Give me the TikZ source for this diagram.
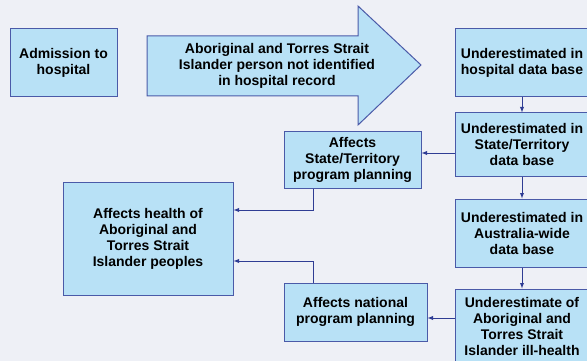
\documentclass[tikz,border=0pt]{standalone}
\usepackage{fontspec}
\setmainfont{Liberation Sans}
\usepackage{tikz}
\usetikzlibrary{positioning,calc,arrows}
\definecolor{pagebg}{HTML}{EEF0F6}
\definecolor{boxfill}{HTML}{B8E1F6}
\definecolor{boxline}{HTML}{4A5AA8}
\definecolor{darkblue}{HTML}{2F3D94}

\begin{document}
\begin{tikzpicture}[x=1pt, y=-1pt,
    box/.style={draw=boxline, fill=boxfill, line width=1pt, inner sep=0pt,
      align=center, font=\fontsize{14}{16}\selectfont\bfseries},
    conn/.style={darkblue, line width=0.9pt, -latex}]
  \fill[pagebg] (0,0) rectangle (587,361);
  \clip (0,0) rectangle (587,361);
  % left column
  \node[box, minimum width=107pt, minimum height=68pt] (admit) at (63.5,63) {Admission to\\hospital};
  \node[box, minimum width=170pt, minimum height=113pt] (health) at (148,238.5)
    {Affects health of\\Aboriginal and\\Torres Strait\\Islander peoples};
  % the big arrow
  \draw[boxline, fill=boxfill, line width=1pt]
    (147,36) -- (358,36) -- (358,6) -- (421,65) -- (358,125) -- (358,96) -- (147,96) -- cycle;
  \node[align=center, font=\fontsize{14}{16}\selectfont\bfseries] (notid) at (277,66)
    {Aboriginal and Torres Strait\\Islander person not identified\\in hospital record};
  % middle column
  \node[box, minimum width=137pt, minimum height=57pt] (stateplan) at (352.5,159.5)
    {Affects\\State/Territory\\program planning};
  \node[box, minimum width=143pt, minimum height=58pt] (natplan) at (355.5,312)
    {Affects national\\program planning};
  % right column
  \node[box, minimum width=134pt, minimum height=68pt] (hospdb) at (522,63)
    {Underestimated in\\hospital data base};
  \node[box, minimum width=134pt, minimum height=63pt] (statedb) at (522,144.5)
    {Underestimated in\\State/Territory\\data base};
  \node[box, minimum width=134pt, minimum height=68pt] (ausdb) at (522,233)
    {Underestimated in\\Australia-wide\\data base};
  \node[box, minimum width=134pt, minimum height=74pt] (illdb) at (522,326)
    {Underestimate of\\Aboriginal and\\Torres Strait\\Islander ill-health};
  % connectors
  \draw[conn] (hospdb.south) -- (statedb.north);
  \draw[conn] (statedb.south) -- (ausdb.north);
  \draw[conn] (ausdb.south) -- (illdb.north);
  \draw[conn] ([yshift=-8.5pt]statedb.west) -- ([yshift=-8.5pt]statedb.west -| stateplan.east);
  \draw[conn] ([yshift=8pt]illdb.west) -- ([yshift=8pt]illdb.west -| natplan.east);
  \draw[conn] ([xshift=-39.5pt]stateplan.south) |- ([yshift=28.5pt]health.east);
  \draw[conn] ([xshift=-42.5pt]natplan.north) |- ([yshift=-22.5pt]health.east);
\end{tikzpicture}
\end{document}
